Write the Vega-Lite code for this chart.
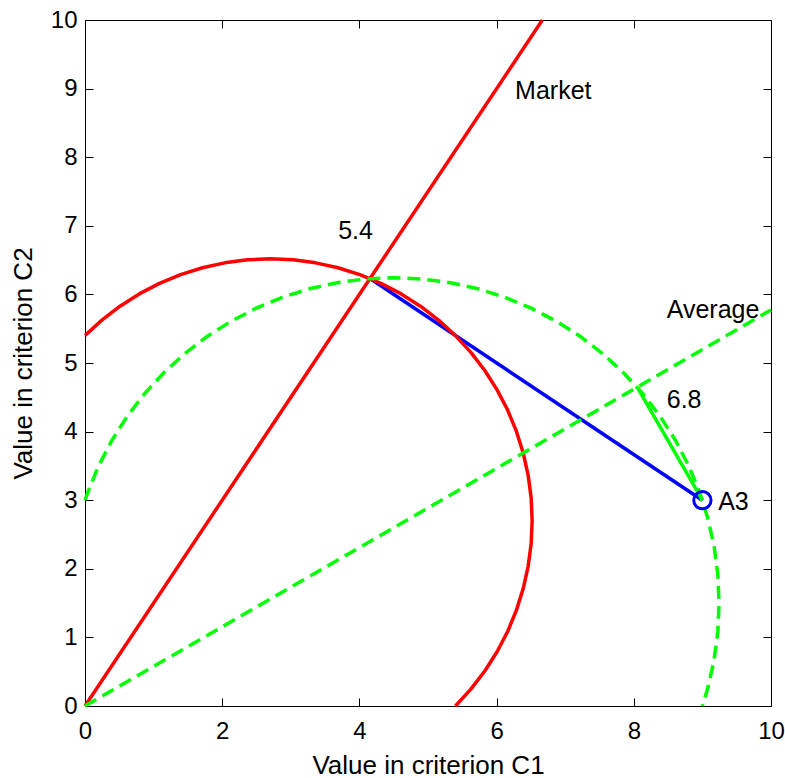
{
  "$schema": "https://vega.github.io/schema/vega-lite/v6.json",
  "autosize": "none",
  "padding": {"left": 85, "top": 20, "right": 14, "bottom": 72},
  "width": 686,
  "height": 686,
  "background": "white",
  "config": {
    "view": {"stroke": "black", "strokeWidth": 1},
    "font": "Liberation Sans",
    "axis": {"grid": false, "labelFont": "Liberation Sans", "titleFont": "Liberation Sans", "labelFontSize": 24, "titleFontSize": 26, "labelColor": "black", "titleColor": "black", "titleFontWeight": "normal", "tickColor": "black", "domain": false, "labelFlush": false, "labelOverlap": false}
  },
  "datasets": {
    "curves": [
      {"curve": "market", "i": 0, "x": 0, "y": 0},
      {"curve": "market", "i": 1, "x": 6.667, "y": 10},
      {"curve": "average", "i": 0, "x": 0, "y": 0},
      {"curve": "average", "i": 1, "x": 10, "y": 5.774},
      {"curve": "distMarket", "i": 0, "x": 4.154, "y": 6.231},
      {"curve": "distMarket", "i": 1, "x": 9, "y": 3},
      {"curve": "distAverage", "i": 0, "x": 9, "y": 3},
      {"curve": "distAverage", "i": 1, "x": 8.049, "y": 4.647},
      {"curve": "redArc", "i": 0, "x": 0, "y": 5.4},
      {"curve": "redArc", "i": 1, "x": 0.246, "y": 5.625},
      {"curve": "redArc", "i": 2, "x": 0.51, "y": 5.828},
      {"curve": "redArc", "i": 3, "x": 0.791, "y": 6.007},
      {"curve": "redArc", "i": 4, "x": 1.086, "y": 6.161},
      {"curve": "redArc", "i": 5, "x": 1.394, "y": 6.288},
      {"curve": "redArc", "i": 6, "x": 1.712, "y": 6.388},
      {"curve": "redArc", "i": 7, "x": 2.037, "y": 6.46},
      {"curve": "redArc", "i": 8, "x": 2.367, "y": 6.504},
      {"curve": "redArc", "i": 9, "x": 2.7, "y": 6.518},
      {"curve": "redArc", "i": 10, "x": 3.033, "y": 6.504},
      {"curve": "redArc", "i": 11, "x": 3.363, "y": 6.46},
      {"curve": "redArc", "i": 12, "x": 3.688, "y": 6.388},
      {"curve": "redArc", "i": 13, "x": 4.006, "y": 6.288},
      {"curve": "redArc", "i": 14, "x": 4.314, "y": 6.161},
      {"curve": "redArc", "i": 15, "x": 4.609, "y": 6.007},
      {"curve": "redArc", "i": 16, "x": 4.89, "y": 5.828},
      {"curve": "redArc", "i": 17, "x": 5.154, "y": 5.625},
      {"curve": "redArc", "i": 18, "x": 5.4, "y": 5.4},
      {"curve": "redArc", "i": 19, "x": 5.625, "y": 5.154},
      {"curve": "redArc", "i": 20, "x": 5.828, "y": 4.89},
      {"curve": "redArc", "i": 21, "x": 6.007, "y": 4.609},
      {"curve": "redArc", "i": 22, "x": 6.161, "y": 4.314},
      {"curve": "redArc", "i": 23, "x": 6.288, "y": 4.006},
      {"curve": "redArc", "i": 24, "x": 6.388, "y": 3.688},
      {"curve": "redArc", "i": 25, "x": 6.46, "y": 3.363},
      {"curve": "redArc", "i": 26, "x": 6.504, "y": 3.033},
      {"curve": "redArc", "i": 27, "x": 6.518, "y": 2.7},
      {"curve": "redArc", "i": 28, "x": 6.504, "y": 2.367},
      {"curve": "redArc", "i": 29, "x": 6.46, "y": 2.037},
      {"curve": "redArc", "i": 30, "x": 6.388, "y": 1.712},
      {"curve": "redArc", "i": 31, "x": 6.288, "y": 1.394},
      {"curve": "redArc", "i": 32, "x": 6.161, "y": 1.086},
      {"curve": "redArc", "i": 33, "x": 6.007, "y": 0.791},
      {"curve": "redArc", "i": 34, "x": 5.828, "y": 0.51},
      {"curve": "redArc", "i": 35, "x": 5.625, "y": 0.246},
      {"curve": "redArc", "i": 36, "x": 5.4, "y": 0},
      {"curve": "greenArc", "i": 0, "x": 0, "y": 3},
      {"curve": "greenArc", "i": 1, "x": 0.043, "y": 3.122},
      {"curve": "greenArc", "i": 2, "x": 0.201, "y": 3.505},
      {"curve": "greenArc", "i": 3, "x": 0.392, "y": 3.872},
      {"curve": "greenArc", "i": 4, "x": 0.614, "y": 4.221},
      {"curve": "greenArc", "i": 5, "x": 0.866, "y": 4.549},
      {"curve": "greenArc", "i": 6, "x": 1.146, "y": 4.854},
      {"curve": "greenArc", "i": 7, "x": 1.451, "y": 5.134},
      {"curve": "greenArc", "i": 8, "x": 1.779, "y": 5.386},
      {"curve": "greenArc", "i": 9, "x": 2.128, "y": 5.608},
      {"curve": "greenArc", "i": 10, "x": 2.495, "y": 5.799},
      {"curve": "greenArc", "i": 11, "x": 2.878, "y": 5.957},
      {"curve": "greenArc", "i": 12, "x": 3.272, "y": 6.082},
      {"curve": "greenArc", "i": 13, "x": 3.676, "y": 6.171},
      {"curve": "greenArc", "i": 14, "x": 4.087, "y": 6.225},
      {"curve": "greenArc", "i": 15, "x": 4.5, "y": 6.243},
      {"curve": "greenArc", "i": 16, "x": 4.913, "y": 6.225},
      {"curve": "greenArc", "i": 17, "x": 5.324, "y": 6.171},
      {"curve": "greenArc", "i": 18, "x": 5.728, "y": 6.082},
      {"curve": "greenArc", "i": 19, "x": 6.122, "y": 5.957},
      {"curve": "greenArc", "i": 20, "x": 6.505, "y": 5.799},
      {"curve": "greenArc", "i": 21, "x": 6.872, "y": 5.608},
      {"curve": "greenArc", "i": 22, "x": 7.221, "y": 5.386},
      {"curve": "greenArc", "i": 23, "x": 7.549, "y": 5.134},
      {"curve": "greenArc", "i": 24, "x": 7.854, "y": 4.854},
      {"curve": "greenArc", "i": 25, "x": 8.134, "y": 4.549},
      {"curve": "greenArc", "i": 26, "x": 8.386, "y": 4.221},
      {"curve": "greenArc", "i": 27, "x": 8.608, "y": 3.872},
      {"curve": "greenArc", "i": 28, "x": 8.799, "y": 3.505},
      {"curve": "greenArc", "i": 29, "x": 8.957, "y": 3.122},
      {"curve": "greenArc", "i": 30, "x": 9.082, "y": 2.728},
      {"curve": "greenArc", "i": 31, "x": 9.171, "y": 2.324},
      {"curve": "greenArc", "i": 32, "x": 9.225, "y": 1.913},
      {"curve": "greenArc", "i": 33, "x": 9.243, "y": 1.5},
      {"curve": "greenArc", "i": 34, "x": 9.225, "y": 1.087},
      {"curve": "greenArc", "i": 35, "x": 9.171, "y": 0.676},
      {"curve": "greenArc", "i": 36, "x": 9.082, "y": 0.272},
      {"curve": "greenArc", "i": 37, "x": 9, "y": 0}
    ],
    "alternative": [{"name": "A3", "x": 9, "y": 3}],
    "labels": [
      {"text": "Market", "x": 6.27, "y": 8.97},
      {"text": "Average", "x": 8.48, "y": 5.77},
      {"text": "5.4", "x": 3.69, "y": 6.92},
      {"text": "6.8", "x": 8.48, "y": 4.46},
      {"text": "A3", "x": 9.23, "y": 2.97}
    ]
  },
  "resolve": {"axis": {"x": "independent", "y": "independent"}},
  "layer": [
    {
      "data": {"name": "curves"},
      "transform": [{"filter": "datum.curve === 'distMarket'"}],
      "mark": {"type": "line", "color": "#0000ff", "strokeWidth": 3.5},
      "encoding": {
        "x": {"field": "x", "type": "quantitative", "scale": {"domain": [0, 10], "nice": false},
              "axis": {"orient": "bottom", "offset": -8, "tickSize": 8, "values": [0, 2, 4, 6, 8, 10], "labels": false, "title": null}},
        "y": {"field": "y", "type": "quantitative", "scale": {"domain": [0, 10], "nice": false},
              "axis": {"orient": "left", "offset": -8, "tickSize": 8, "values": [0, 1, 2, 3, 4, 5, 6, 7, 8, 9, 10], "labels": false, "title": null}},
        "order": {"field": "i"}
      }
    },
    {
      "data": {"name": "curves"},
      "transform": [{"filter": "datum.curve === 'market' || datum.curve === 'redArc'"}],
      "mark": {"type": "line", "color": "#ff0000", "strokeWidth": 3.5, "strokeJoin": "round"},
      "encoding": {
        "x": {"field": "x", "type": "quantitative", "scale": {"domain": [0, 10], "nice": false},
              "axis": {"orient": "top", "offset": -8, "tickSize": 8, "values": [0, 2, 4, 6, 8, 10], "labels": false, "title": null}},
        "y": {"field": "y", "type": "quantitative", "scale": {"domain": [0, 10], "nice": false},
              "axis": {"orient": "right", "offset": -8, "tickSize": 8, "values": [0, 1, 2, 3, 4, 5, 6, 7, 8, 9, 10], "labels": false, "title": null}},
        "detail": {"field": "curve"},
        "order": {"field": "i"}
      }
    },
    {
      "data": {"name": "curves"},
      "transform": [{"filter": "datum.curve === 'average' || datum.curve === 'greenArc'"}],
      "mark": {"type": "line", "color": "#00ff00", "strokeWidth": 3.5, "strokeDash": [13, 7]},
      "encoding": {
        "x": {"field": "x", "type": "quantitative", "scale": {"domain": [0, 10], "nice": false},
              "axis": {"orient": "bottom", "ticks": false, "values": [0, 2, 4, 6, 8, 10], "labelPadding": 13, "title": "Value in criterion C1", "titleBaseline": "alphabetic", "titleY": 67}},
        "y": {"field": "y", "type": "quantitative", "scale": {"domain": [0, 10], "nice": false},
              "axis": {"orient": "left", "ticks": false, "values": [0, 1, 2, 3, 4, 5, 6, 7, 8, 9, 10], "labelPadding": 8, "title": "Value in criterion C2", "titleAngle": -90, "titleBaseline": "alphabetic", "titleX": -54, "titleY": 343}},
        "detail": {"field": "curve"},
        "order": {"field": "i"}
      }
    },
    {
      "data": {"name": "curves"},
      "transform": [{"filter": "datum.curve === 'distAverage'"}],
      "mark": {"type": "line", "color": "#00ff00", "strokeWidth": 3.5},
      "encoding": {
        "x": {"field": "x", "type": "quantitative", "axis": null},
        "y": {"field": "y", "type": "quantitative", "axis": null},
        "order": {"field": "i"}
      }
    },
    {
      "data": {"name": "alternative"},
      "mark": {"type": "point", "shape": "circle", "filled": false, "color": "#0000ff", "strokeWidth": 3, "size": 300, "opacity": 1},
      "encoding": {
        "x": {"field": "x", "type": "quantitative", "axis": null},
        "y": {"field": "y", "type": "quantitative", "axis": null}
      }
    },
    {
      "data": {"name": "labels"},
      "mark": {"type": "text", "align": "left", "baseline": "middle", "font": "Liberation Sans", "fontSize": 25, "color": "black"},
      "encoding": {
        "x": {"field": "x", "type": "quantitative", "axis": null},
        "y": {"field": "y", "type": "quantitative", "axis": null},
        "text": {"field": "text"}
      }
    }
  ]
}
